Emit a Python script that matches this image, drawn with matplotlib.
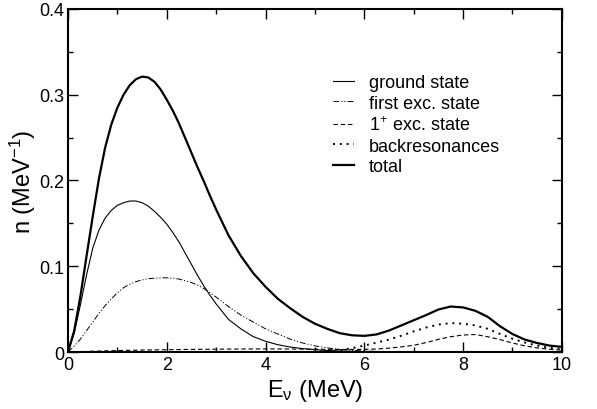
import matplotlib
matplotlib.use("Agg")
import matplotlib.pyplot as plt

plt.rcParams['font.family'] = ['Liberation Sans', 'DejaVu Sans']
plt.rcParams['mathtext.fontset'] = 'custom'
plt.rcParams['mathtext.rm'] = 'Liberation Sans'
plt.rcParams['mathtext.it'] = 'Liberation Sans:italic'

# energy grid (MeV), finer below 3 MeV where the curves bend fast
energy = [0, 0.125, 0.25, 0.375, 0.5, 0.625, 0.75, 0.875, 1.0, 1.125,
          1.25, 1.375, 1.5, 1.625, 1.75, 1.875, 2.0, 2.125, 2.25, 2.375,
          2.5, 2.625, 2.75, 2.875, 3.0,
          3.25, 3.5, 3.75, 4.0, 4.25, 4.5, 4.75, 5.0, 5.25, 5.5,
          5.75, 6.0, 6.25, 6.5, 6.75, 7.0, 7.25, 7.5, 7.75, 8.0,
          8.25, 8.5, 8.75, 9.0, 9.25, 9.5, 9.75, 10.0]

ground = [0, 0.022, 0.055, 0.090, 0.121, 0.142, 0.156, 0.165, 0.171, 0.174,
          0.176, 0.176, 0.174, 0.170, 0.164, 0.157, 0.149, 0.139, 0.128, 0.115,
          0.102, 0.089, 0.077, 0.066, 0.056,
          0.038, 0.027, 0.018, 0.0125, 0.0085, 0.0058, 0.004, 0.0027, 0.0018, 0.0012,
          0.0008, 0.0005, 0.0003, 0.0002, 0.0001, 0.0001, 0, 0, 0, 0,
          0, 0, 0, 0, 0, 0, 0, 0]

first_exc = [0, 0.007, 0.015, 0.025, 0.035, 0.045, 0.054, 0.062, 0.069, 0.075,
             0.079, 0.082, 0.084, 0.0855, 0.086, 0.0865, 0.0865, 0.086, 0.085, 0.083,
             0.081, 0.078, 0.074, 0.069, 0.064,
             0.053, 0.043, 0.035, 0.027, 0.021, 0.015, 0.0105, 0.0072, 0.0048, 0.0031,
             0.002, 0.0012, 0.0007, 0.0004, 0.0002, 0.0001, 0, 0, 0, 0,
             0, 0, 0, 0, 0, 0, 0, 0]

one_plus = [0, 0.0002, 0.0004, 0.0006, 0.0009, 0.0011, 0.0013, 0.0015, 0.0017, 0.0018,
            0.002, 0.0021, 0.0023, 0.0024, 0.0025, 0.0026, 0.0027, 0.0028, 0.0029, 0.003,
            0.0031, 0.0031, 0.0032, 0.0032, 0.0033,
            0.0034, 0.0035, 0.0036, 0.0036, 0.0036, 0.0035, 0.0034, 0.0033, 0.0031, 0.003,
            0.003, 0.0031, 0.0035, 0.0045, 0.006, 0.0078, 0.011, 0.0147, 0.0178, 0.0198,
            0.0204, 0.0178, 0.0145, 0.0105, 0.0072, 0.0048, 0.0032, 0.0022]

backres = [0, 0, 0, 0, 0, 0, 0, 0, 0, 0,
           0, 0, 0, 0, 0, 0, 0, 0, 0, 0,
           0, 0, 0, 0, 0,
           0, 0, 0, 0, 0, 0, 0, 0.0002, 0.0008, 0.002,
           0.0045, 0.0075, 0.011, 0.0145, 0.019, 0.024, 0.0285, 0.032, 0.0337, 0.033,
           0.031, 0.027, 0.021, 0.0155, 0.011, 0.0075, 0.005, 0.0035]

total = [0, 0.025, 0.065, 0.112, 0.158, 0.202, 0.238, 0.265, 0.285, 0.300,
         0.311, 0.318, 0.321, 0.320, 0.315, 0.306, 0.294, 0.281, 0.266, 0.249,
         0.232, 0.215, 0.199, 0.182, 0.166,
         0.136, 0.112, 0.092, 0.076, 0.062, 0.051, 0.041, 0.033, 0.027, 0.022,
         0.0195, 0.0188, 0.0205, 0.025, 0.031, 0.037, 0.043, 0.0495, 0.053, 0.052,
         0.048, 0.041, 0.030, 0.021, 0.0145, 0.0105, 0.0075, 0.006]

xticks = [0, 2, 4, 6, 8, 10]
xtick_labels = ['0', '2', '4', '6', '8', '10']
yticks = [0, 0.1, 0.2, 0.3, 0.4]
ytick_labels = ['0', '0.1', '0.2', '0.3', '0.4']

fig = plt.figure(figsize=(5.97, 4.10), dpi=100)
ax = fig.add_axes([0.114, 0.139, 0.827, 0.837])

ax.plot(energy, ground, color='black', lw=0.8, label='ground state')
ax.plot(energy, first_exc, color='black', lw=0.7,
        linestyle=(0, (6, 2, 1.2, 2, 1.2, 2)), label='first exc. state')
ax.plot(energy, one_plus, color='black', lw=0.8,
        linestyle=(0, (4, 2.5)), label='1$\\mathregular{^{+}}$ exc. state')
ax.plot(energy, backres, color='black', lw=1.4,
        linestyle=(0, (1, 2.5)), label='backresonances')
ax.plot(energy, total, color='black', lw=1.6, label='total')

ax.set_xlim(0, 10)
ax.set_ylim(0, 0.4)
ax.set_xticks(xticks)
ax.set_xticklabels(xtick_labels)
ax.set_yticks(yticks)
ax.set_yticklabels(ytick_labels)
ax.set_xticks([1, 3, 5, 7, 9], minor=True)
ax.set_yticks([0.05, 0.15, 0.25, 0.35], minor=True)
ax.tick_params(which='both', direction='in', top=True, right=True,
               labelsize=13, width=1, pad=3)
ax.tick_params(which='major', length=7)
ax.tick_params(which='minor', length=3.5)
for sp in ax.spines.values():
    sp.set_linewidth(1.5)

ax.set_xlabel('$\\mathregular{E_{ν}}$ (MeV)', fontsize=17, labelpad=3)
ax.set_ylabel('n (MeV$\\mathregular{^{-1}}$)', fontsize=17, labelpad=1)

ax.legend(loc='upper left', bbox_to_anchor=(0.536, 0.81), frameon=False,
          fontsize=13, handlelength=1.2, handletextpad=0.8,
          labelspacing=0.2, borderpad=0, borderaxespad=0)

fig.savefig('out.png', dpi=100)
